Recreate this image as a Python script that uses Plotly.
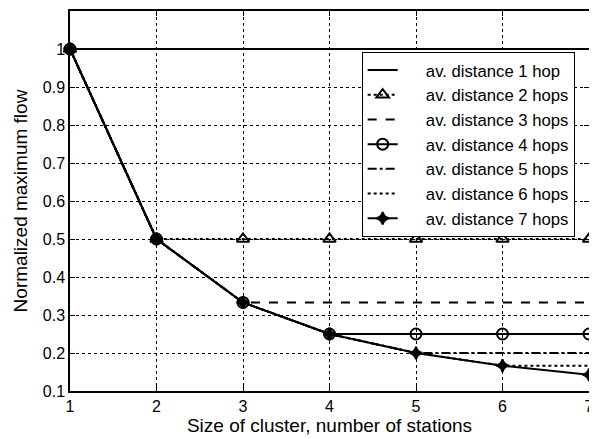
import plotly.graph_objects as go

x = [1, 2, 3, 4, 5, 6, 7]
hop1 = [1, 1, 1, 1, 1, 1, 1]
hop2 = [1, 0.5, 0.5, 0.5, 0.5, 0.5, 0.5]
hop3 = [1, 0.5, 0.333, 0.333, 0.333, 0.333, 0.333]
hop4 = [1, 0.5, 0.333, 0.25, 0.25, 0.25, 0.25]
hop5 = [1, 0.5, 0.333, 0.25, 0.2, 0.2, 0.2]
hop6 = [1, 0.5, 0.333, 0.25, 0.2, 0.1667, 0.1667]
hop7 = [1, 0.5, 0.333, 0.25, 0.2, 0.1667, 0.1429]
names = ["av. distance 1 hop", "av. distance 2 hops", "av. distance 3 hops",
         "av. distance 4 hops", "av. distance 5 hops", "av. distance 6 hops",
         "av. distance 7 hops"]
yticks = [0.1, 0.2, 0.3, 0.4, 0.5, 0.6, 0.7, 0.8, 0.9, 1.0]
ylabels = ["0.1", "0.2", "0.3", "0.4", "0.5", "0.6", "0.7", "0.8", "0.9", "1"]

fig = go.Figure()
styles = [
    (hop1, "solid", None, 0),
    (hop2, "dot", "triangle-up-open", 11),
    (hop3, "dash", None, 0),
    (hop4, "solid", "circle-open", 11),
    (hop5, "dashdot", None, 0),
    (hop6, "dot", None, 0),
    (hop7, "solid", "star-diamond", 9),
]
pad = "\u00a0" * 5
for (ys, dash, sym, size), nm in zip(styles, names):
    mode = "lines+markers" if sym else "lines"
    fig.add_trace(go.Scatter(
        x=x, y=ys, name=pad + nm,
        mode=mode, cliponaxis=False,
        line=dict(color="black", width=2, dash=dash),
        marker=dict(symbol=sym, size=size, color="black",
                    line=dict(color="black", width=2)) if sym else None,
    ))

fig.update_layout(
    width=589, height=431,
    margin=dict(l=62, r=8, t=3, b=48),
    paper_bgcolor="white", plot_bgcolor="white",
    font=dict(family="Liberation Sans, Arial, sans-serif", size=16, color="black"),
    showlegend=True,
    legend=dict(x=0.562, y=0.893, xanchor="left", yanchor="top",
                bgcolor="white", bordercolor="black", borderwidth=1,
                font=dict(size=16.7), tracegroupgap=0),
)
fig.update_xaxes(range=[1, 7], tickvals=x, showgrid=True, gridcolor="black",
                 griddash="dot", gridwidth=1, showline=True, linecolor="black",
                 linewidth=1.5, mirror="ticks", ticks="inside", ticklen=5,
                 tickcolor="black", zeroline=False, automargin=False,
                 ticklabeloverflow="allow", tickfont=dict(size=16),
                 title=dict(text="Size of cluster, number of stations", standoff=4))
fig.update_yaxes(range=[0.1, 1.1], tickvals=yticks, ticktext=ylabels, showgrid=True,
                 gridcolor="black", griddash="dot", gridwidth=1, showline=True,
                 linecolor="black", linewidth=1.5, mirror="ticks", ticks="inside",
                 ticklen=5, tickcolor="black", zeroline=False, automargin=False,
                 ticklabeloverflow="allow", tickfont=dict(size=16),
                 title=dict(text="Normalized maximum flow", standoff=10))

fig.write_html("out.html")
